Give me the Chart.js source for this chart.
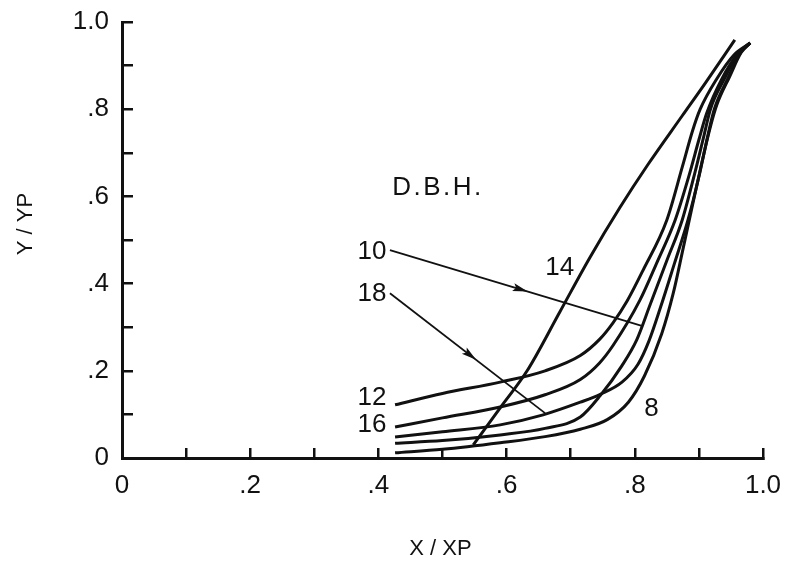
<!DOCTYPE html>
<html>
<head>
<meta charset="utf-8">
<script src="https://cdn.jsdelivr.net/npm/chart.js@4/dist/chart.umd.min.js"></script>
<style>
  html, body { margin: 0; padding: 0; background: #ffffff; }
  #wrap { width: 792px; height: 564px; }
</style>
</head>
<body>
<div id="wrap"><canvas id="c" width="792" height="564"></canvas></div>
<script>
// ---- Data ----
const xTickLabels = ['0', '.2', '.4', '.6', '.8', '1.0'];
const yTickLabels = ['0', '.2', '.4', '.6', '.8', '1.0'];
const xTitle = 'X / XP';
const yTitle = 'Y / YP';

// D.B.H. = 12
const x12 = [0.426, 0.5, 0.59, 0.66, 0.715, 0.745, 0.766, 0.788, 0.813, 0.85, 0.874, 0.89, 0.902, 0.928, 0.955, 0.98];
const y12 = [0.122, 0.148, 0.174, 0.2, 0.235, 0.272, 0.31, 0.36, 0.431, 0.546, 0.667, 0.75, 0.8, 0.87, 0.925, 0.952];
// D.B.H. = 16
const x16 = [0.426, 0.5, 0.59, 0.66, 0.715, 0.745, 0.766, 0.808, 0.835, 0.863, 0.885, 0.9, 0.912, 0.936, 0.96, 0.98];
const y16 = [0.071, 0.092, 0.117, 0.145, 0.18, 0.218, 0.258, 0.362, 0.45, 0.546, 0.65, 0.73, 0.79, 0.87, 0.926, 0.952];
// D.B.H. = 10
const x10 = [0.426, 0.5, 0.59, 0.66, 0.715, 0.746, 0.78, 0.803, 0.824, 0.85, 0.874, 0.893, 0.908, 0.918, 0.94, 0.962, 0.98];
const y10 = [0.034, 0.04, 0.053, 0.068, 0.094, 0.143, 0.212, 0.271, 0.352, 0.453, 0.546, 0.65, 0.74, 0.8, 0.87, 0.928, 0.952];
// D.B.H. = 18
const x18 = [0.426, 0.5, 0.59, 0.657, 0.715, 0.746, 0.78, 0.805, 0.822, 0.84, 0.862, 0.883, 0.9, 0.914, 0.924, 0.945, 0.965, 0.98];
const y18 = [0.048, 0.06, 0.076, 0.099, 0.128, 0.146, 0.174, 0.215, 0.268, 0.345, 0.447, 0.546, 0.645, 0.74, 0.8, 0.87, 0.93, 0.952];
// D.B.H. = 8
const x8 = [0.426, 0.5, 0.59, 0.66, 0.715, 0.757, 0.79, 0.815, 0.842, 0.86, 0.875, 0.89, 0.905, 0.918, 0.928, 0.948, 0.966, 0.98];
const y8 = [0.012, 0.02, 0.035, 0.049, 0.066, 0.088, 0.128, 0.188, 0.285, 0.378, 0.478, 0.58, 0.68, 0.76, 0.81, 0.875, 0.93, 0.952];
// D.B.H. = 14
const x14 = [0.548, 0.59, 0.632, 0.683, 0.73, 0.777, 0.82, 0.874, 0.91, 0.956];
const y14 = [0.03, 0.115, 0.2, 0.335, 0.46, 0.575, 0.672, 0.785, 0.86, 0.959];

// Leader arrows (from label to curve)
const arrow10X = [0.418, 0.811];
const arrow10Y = [0.477, 0.303];
const arrow18X = [0.418, 0.66];
const arrow18Y = [0.378, 0.103];

// Text labels placed in data units
const noteTexts = ['D.B.H.', '10', '18', '14', '12', '16', '8'];
const noteX = [0.493, 0.39, 0.39, 0.683, 0.39, 0.39, 0.826];
const noteY = [0.619, 0.474, 0.376, 0.436, 0.138, 0.076, 0.113];

// ---- Build chart ----
const INK = '#111111';
const FONT = '"Liberation Sans", Arial, Helvetica, sans-serif';
const pts = (xs, ys) => xs.map((v, i) => ({ x: v, y: ys[i] }));

function curve(label, xs, ys) {
  return {
    label, data: pts(xs, ys),
    borderColor: INK, borderWidth: 3, pointRadius: 0,
    cubicInterpolationMode: 'monotone', fill: false
  };
}
function leader(label, xs, ys) {
  return {
    label, data: pts(xs, ys),
    borderColor: INK, borderWidth: 1.8, pointRadius: 0, tension: 0, fill: false
  };
}

function tickText(value, labels) {
  const n = Math.round(value * 10);
  if (n % 2 !== 0) return '';
  return labels[n / 2];
}

function fixBox(s, w, h) {
  if (w !== null) s.width = w;
  if (h !== null) s.height = h;
  s.paddingTop = 0; s.paddingBottom = 0; s.paddingLeft = 0; s.paddingRight = 0;
}

const annotate = {
  id: 'annotate',
  afterDatasetsDraw(chart) {
    const { ctx, chartArea } = chart;
    const sx = chart.scales.x, sy = chart.scales.y;
    ctx.save();
    ctx.fillStyle = INK;
    // arrowheads on leader lines
    [[arrow10X, arrow10Y], [arrow18X, arrow18Y]].forEach(([ax, ay]) => {
      const x0 = sx.getPixelForValue(ax[0]), y0 = sy.getPixelForValue(ay[0]);
      const x1 = sx.getPixelForValue(ax[1]), y1 = sy.getPixelForValue(ay[1]);
      const px = x0 + (x1 - x0) * 0.52, py = y0 + (y1 - y0) * 0.52;
      const ang = Math.atan2(y1 - y0, x1 - x0);
      ctx.save();
      ctx.translate(px, py);
      ctx.rotate(ang);
      ctx.beginPath();
      ctx.moveTo(7, 0);
      ctx.lineTo(-8, -4);
      ctx.lineTo(-5, 0);
      ctx.lineTo(-8, 4);
      ctx.closePath();
      ctx.fill();
      ctx.restore();
    });
    // text notes
    ctx.textAlign = 'center';
    ctx.textBaseline = 'middle';
    noteTexts.forEach((t, i) => {
      ctx.font = '26px ' + FONT;
      ctx.letterSpacing = (t.length > 3) ? '2.5px' : '0px';
      ctx.fillText(t, sx.getPixelForValue(noteX[i]), sy.getPixelForValue(noteY[i]));
    });
    ctx.letterSpacing = '0px';
    // axis titles
    ctx.font = '22px ' + FONT;
    ctx.fillText(xTitle, (chartArea.left + chartArea.right) / 2 - 2, chart.height - 15);
    ctx.save();
    ctx.translate(26, chartArea.top + 202);
    ctx.rotate(-Math.PI / 2);
    ctx.fillText(yTitle, 0, 0);
    ctx.restore();
    ctx.restore();
  }
};

new Chart(document.getElementById('c'), {
  type: 'line',
  data: {
    datasets: [
      curve('12', x12, y12),
      curve('16', x16, y16),
      curve('10', x10, y10),
      curve('18', x18, y18),
      curve('8', x8, y8),
      curve('14', x14, y14),
      leader('10 leader', arrow10X, arrow10Y),
      leader('18 leader', arrow18X, arrow18Y)
    ]
  },
  options: {
    responsive: false,
    animation: false,
    devicePixelRatio: 1,
    layout: { padding: { top: 22, right: 29, left: 0, bottom: 0 } },
    plugins: { legend: { display: false }, tooltip: { enabled: false } },
    scales: {
      x: {
        type: 'linear', min: 0, max: 1,
        afterFit: s => fixBox(s, null, 106),
        border: { display: true, color: INK, width: 3 },
        grid: { drawOnChartArea: false, drawTicks: true, tickLength: -10, color: INK, lineWidth: 2.5 },
        ticks: {
          stepSize: 0.1, color: INK, padding: 22, maxRotation: 0, autoSkip: false,
          font: { family: FONT, size: 26 },
          callback: v => tickText(v, xTickLabels)
        },
        title: { display: false }
      },
      y: {
        type: 'linear', min: 0, max: 1,
        afterFit: s => fixBox(s, 122, null),
        border: { display: true, color: INK, width: 3 },
        grid: { drawOnChartArea: false, drawTicks: true, tickLength: -11, color: INK, lineWidth: 2.5 },
        ticks: {
          stepSize: 0.1, color: INK, padding: 24, autoSkip: false,
          font: { family: FONT, size: 26 },
          callback: v => tickText(v, yTickLabels)
        },
        title: { display: false }
      }
    }
  },
  plugins: [annotate]
});
</script>
</body>
</html>
